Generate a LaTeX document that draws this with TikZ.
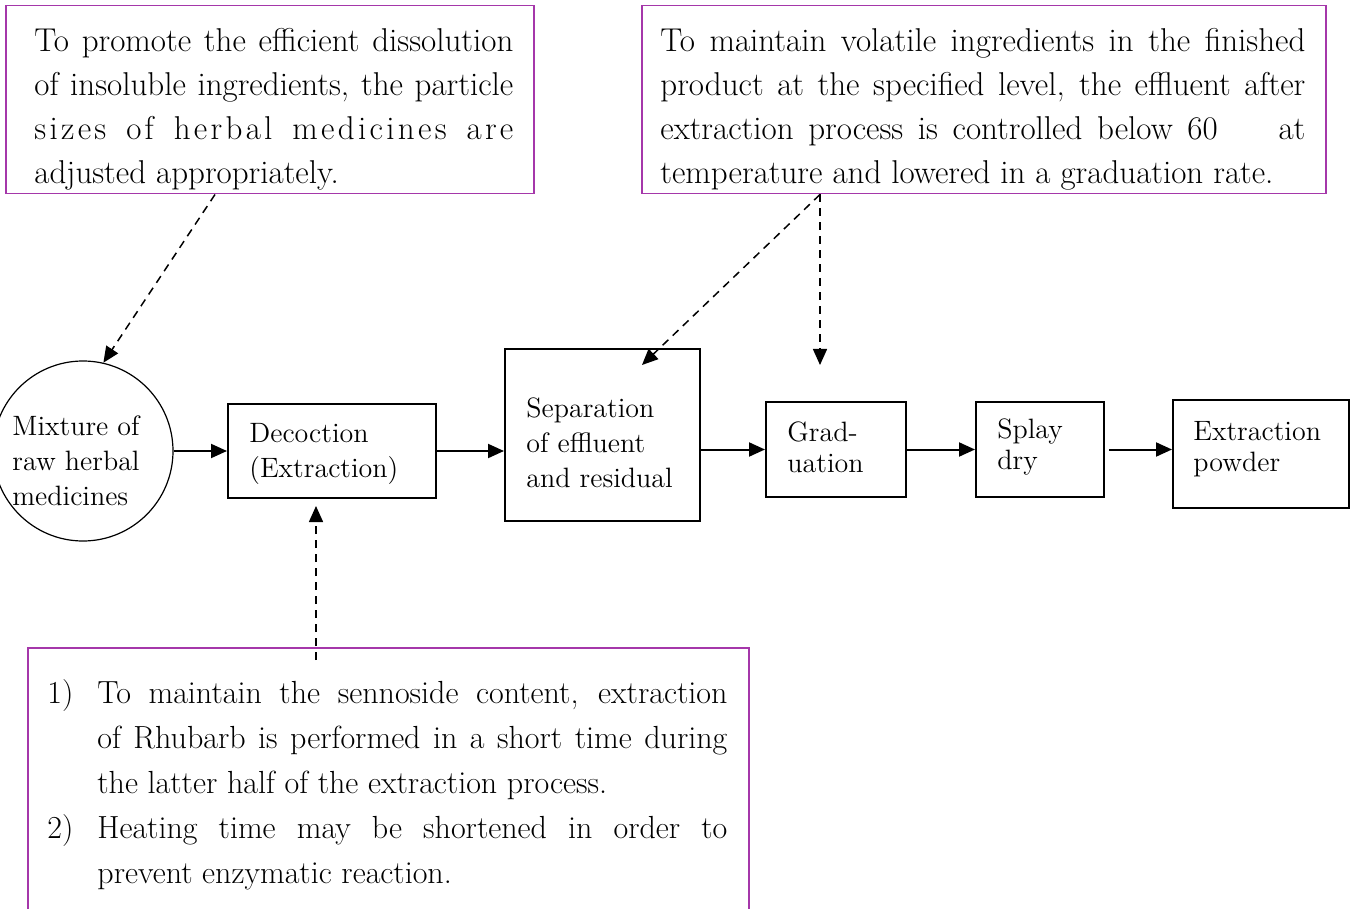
\documentclass[tikz,border=0pt]{standalone}
\usepackage{fontspec}
\newfontfamily\spacedfont{lmroman17-regular.otf}[LetterSpace=10]
\usetikzlibrary{arrows.meta,calc}
\definecolor{callpurple}{RGB}{165,55,170}
\begin{document}
\begin{tikzpicture}[x=0.5pt,y=-0.5pt,
  proc/.style={draw,line width=1pt,rectangle,inner sep=0pt},
  proctext/.style={inner sep=0pt,anchor=west,align=left,font=\fontsize{14}{17.5}\selectfont},
  callout/.style={draw=callpurple,line width=0.75pt,rectangle,inner sep=0pt,anchor=north west},
  calltext/.style={inner sep=0pt,anchor=north west,align=justify,font=\fontsize{16.5}{22}\selectfont},
  flow/.style={line width=1pt,-{Triangle[length=8pt,width=7pt]}},
  hint/.style={line width=0.75pt,dash pattern=on 4pt off 3pt,-{Triangle[length=8pt,width=7pt]}}]
\clip (0,0) rectangle (1350,909);

% callouts
\node[callout,minimum width=264pt,minimum height=94pt] (c1) at (5,5) {};
\node[calltext,text width=239.5pt] (c1t) at (34,28) {To promote the efficient dissolution\linebreak
of insoluble ingredients, the particle\linebreak
{\spacedfont sizes of herbal medicines are}\linebreak
adjusted appropriately.\par};

\node[callout,minimum width=342pt,minimum height=94pt] (c2) at (641,5) {};
\node[calltext,text width=322.5pt] (c2t) at (660,28) {To maintain volatile ingredients in the finished\linebreak
product at the specified level, the effluent after\linebreak
extraction process is controlled below 60\hspace{1.4em} at\linebreak
temperature and lowered in a graduation rate.\par};

\node[callout,minimum width=360.5pt,minimum height=160pt] (c3) at (27,647) {};
\node[calltext,text width=340pt,font=\fontsize{16}{22.5}\selectfont] (c3t) at (47,679) {%
\hangindent=25pt\hangafter=1\noindent\makebox[25pt][l]{1)}To maintain the sennoside content, extraction\linebreak
of Rhubarb is performed in a short time during\linebreak
the latter half of the extraction process.\par
\hangindent=25pt\hangafter=1\noindent\makebox[25pt][l]{2)}Heating time may be shortened in order to\linebreak
prevent enzymatic reaction.\par};

% process
\node[draw,circle,line width=0.6pt,minimum size=90pt,inner sep=0pt] (mix) at (83,451) {};
\node[proctext] (mixt) at (12,460.5) {Mixture of\\raw herbal\\medicines};
\node[proc,minimum width=104pt,minimum height=47pt] (dec) at (332,451) {};
\node[proctext] (dect) at (249,454) {Decoction\\(Extraction)};
\node[proc,minimum width=97.5pt,minimum height=86pt] (sep) at (602.5,435) {};
\node[proctext] (sept) at (526,443) {Separation\\of effluent\\and residual};
\node[proc,minimum width=70pt,minimum height=47.5pt] (grad) at (836,449.5) {};
\node[proctext,font=\fontsize{14}{15.5}\selectfont] (gradt) at (787,447) {Grad-\\uation};
\node[proc,minimum width=64pt,minimum height=47.5pt] (spl) at (1040,449.5) {};
\node[proctext,font=\fontsize{14}{15.5}\selectfont] (splt) at (997,447) {Splay\\dry};
\node[proc,minimum width=88pt,minimum height=54pt] (ext) at (1261,454) {};
\node[proctext,font=\fontsize{14}{15.5}\selectfont] (extt) at (1193,449) {Extraction\\powder};

\draw[flow] (mix.east |- dec.west) -- (dec.west);
\draw[flow] (dec.east) -- (dec.east -| sep.west);
\draw[flow] (grad.west -| sep.east) -- (grad.west);
\draw[flow] (grad.east) -- (spl.west);
\draw[flow] ([xshift=2pt]spl.east) -- (spl.east -| ext.west);

% hints
\coordinate (c1a) at ([xshift=105pt]c1.south west);
\draw[hint] (c1a) -- (mix.77);
\coordinate (c2a) at ([xshift=89.5pt]c2.south west);
\coordinate (sepTip) at (642,365);
\coordinate (gradTip) at (820,365);
\draw[hint] (c2a) -- (sepTip);
\draw[hint] (c2a) -- (gradTip);
\coordinate (c3a) at (316,660);
\draw[hint] (c3a) -- ([yshift=-3.5pt]c3a |- dec.south);
\end{tikzpicture}
\end{document}
